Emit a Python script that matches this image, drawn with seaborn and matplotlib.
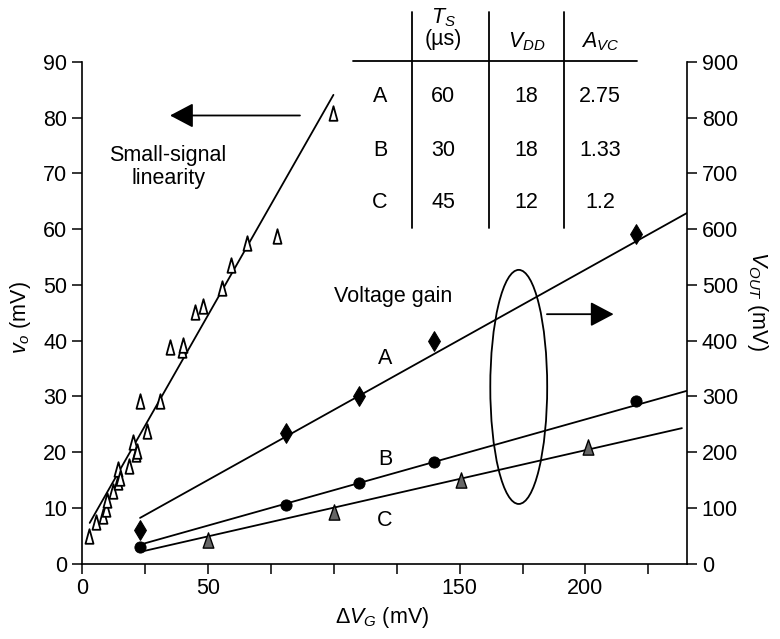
import matplotlib
matplotlib.use("Agg")
import matplotlib.pyplot as plt
from matplotlib.patches import Ellipse
from matplotlib.lines import Line2D
from matplotlib.path import Path
import seaborn as sns

# small-signal linearity points (left axis, v_o in mV)
ss_x = [3, 5.7, 8.2, 9.7, 10, 12.2, 14.3, 14.2, 15, 18.8, 20.1, 21.5, 21.8,
        23.1, 25.7, 31, 35, 39.6, 40.3, 44.9, 48, 55.5, 59.1, 65.5, 77.4, 99.9]
ss_y = [4.9, 7.4, 8.6, 9.8, 11.5, 13, 14.6, 16.9, 15.4, 17.5, 21.8, 19.6, 20.2,
        29.1, 23.8, 29.1, 38.9, 38.3, 39.2, 45.2, 46.2, 49.4, 53.6, 57.6, 58.7, 80.8]
ss_fit_x = [3.1, 99.9]
ss_fit_y = [7.3, 84.1]

# voltage gain points (right axis, V_OUT in mV)
a_x = [23, 81, 110, 140, 220]
a_y = [60, 234, 301, 400, 592]
b_x = [23, 81, 110, 140, 220]
b_y = [30, 106, 145, 183, 292]
c_x = [50, 100, 150.5, 201]
c_y = [42, 93, 150, 210]
a_fit_x, a_fit_y = [23.1, 240.3], [82, 629]
b_fit_x, b_fit_y = [23.1, 240.3], [34, 310]
c_fit_x, c_fit_y = [23.1, 238.3], [21, 243]

# table
tab_rows = ["A", "B", "C"]
tab_ts = ["60", "30", "45"]
tab_vdd = ["18", "18", "12"]
tab_avc = ["2.75", "1.33", "1.2"]

x_ticks = [0, 25, 50, 75, 100, 125, 150, 175, 200, 225]
x_labels = ["0", "", "50", "", "", "", "150", "", "200", ""]

sns.set_style("ticks")
plt.rcParams["font.family"] = ["Liberation Sans", "DejaVu Sans"]
plt.rcParams["mathtext.fontset"] = "custom"
plt.rcParams["mathtext.rm"] = "Liberation Sans"
plt.rcParams["mathtext.it"] = "Liberation Sans:italic"
for key in ["text.color", "axes.labelcolor", "xtick.color", "ytick.color", "axes.edgecolor"]:
    plt.rcParams[key] = "black"

FS = 15.5
W, H = 780, 639
fig = plt.figure(figsize=(7.8, 6.39), dpi=100)
ax = fig.add_axes([0.105, 0.118, 0.776, 0.785])
ax2 = ax.twinx()

thin_tri = Path([(-0.55, -1), (0.55, -1), (0, 1), (-0.55, -1)],
                [Path.MOVETO, Path.LINETO, Path.LINETO, Path.CLOSEPOLY])
tri = Path([(-0.7, -1), (0.7, -1), (0, 1), (-0.7, -1)],
           [Path.MOVETO, Path.LINETO, Path.LINETO, Path.CLOSEPOLY])

lw = 1.3
sns.lineplot(x=ss_fit_x, y=ss_fit_y, ax=ax, color="black", lw=lw)
sns.scatterplot(x=ss_x, y=ss_y, ax=ax, marker=thin_tri, s=110,
                facecolor="white", edgecolor="black", linewidth=1.3, zorder=3)

for fx_, fy_ in [(a_fit_x, a_fit_y), (b_fit_x, b_fit_y), (c_fit_x, c_fit_y)]:
    sns.lineplot(x=fx_, y=fy_, ax=ax2, color="black", lw=lw)
sns.scatterplot(x=a_x, y=a_y, ax=ax2, marker="d", s=100, color="black",
                edgecolor="black", zorder=3)
sns.scatterplot(x=b_x, y=b_y, ax=ax2, marker="o", s=65, color="black",
                edgecolor="black", zorder=3)
sns.scatterplot(x=c_x, y=c_y, ax=ax2, marker=tri, s=120, color="#666666",
                edgecolor="black", linewidth=1.0, zorder=3)

ax.set_xlim(0, 240.4)
ax.set_ylim(0, 90)
ax2.set_ylim(0, 900)
ax.set_xticks(x_ticks)
ax.set_xticklabels(x_labels)
ax.set_yticks(range(0, 91, 10))
ax2.set_yticks(range(0, 901, 100))

for a in (ax, ax2):
    a.spines["top"].set_visible(False)
    for s in a.spines.values():
        s.set_linewidth(1.2)
    a.tick_params(labelsize=FS, length=7, width=1.1, direction="out", colors="black")
ax.spines["right"].set_visible(False)
ax2.spines["left"].set_visible(False)
ax2.spines["bottom"].set_visible(False)

ax.set_xlabel(r"$\Delta V_G$ (mV)", fontsize=FS, va="center")
ax.xaxis.set_label_coords(0.496, -0.107)
ax.set_ylabel(r"$v_o$ (mV)", fontsize=FS, va="center")
ax.yaxis.set_label_coords(-0.102, 0.49)
ax2.set_ylabel(r"$V_{OUT}$ (mV)", fontsize=FS, rotation=270, va="center")
ax2.yaxis.set_label_coords(1.117, 0.523)

# annotations
ax.text(34.2, 71.2, "Small-signal\nlinearity", fontsize=FS, ha="center",
        va="center", linespacing=1.1)
ax.annotate("", xy=(35, 80.4), xytext=(86.6, 80.4),
            arrowprops=dict(arrowstyle="-|>,head_length=1.44,head_width=0.76",
                            mutation_scale=10, color="black", lw=lw,
                            shrinkA=0, shrinkB=0))
ax2.text(123.7, 480, "Voltage gain", fontsize=FS, ha="center", va="center")
ax2.annotate("", xy=(211.2, 447.5), xytext=(184.7, 447.5),
             arrowprops=dict(arrowstyle="-|>,head_length=1.44,head_width=0.76",
                             mutation_scale=10, color="black", lw=lw,
                             shrinkA=0, shrinkB=0))
ax2.add_patch(Ellipse((173.5, 317), 22.6, 420, fill=False, edgecolor="black", lw=lw))
for lab, ly in zip(tab_rows, [368, 186, 78]):
    ax2.text(120.4, ly, lab, fontsize=FS, ha="center", va="center")


# table drawn in figure pixel coordinates
def fx(px):
    return px / W


def fy(py):
    return 1 - py / H


for vx in [411.7, 489, 564]:
    fig.add_artist(Line2D([fx(vx), fx(vx)], [fy(11.7), fy(228)], color="black", lw=1.3))
fig.add_artist(Line2D([fx(353), fx(636.7)], [fy(61), fy(61)], color="black", lw=1.3))

col_x = [380, 443.3, 526.7, 600]
fig.text(fx(443.3), fy(18), r"$T_S$", fontsize=FS, ha="center", va="center")
fig.text(fx(443.3), fy(40), "(\u00b5s)", fontsize=FS, ha="center", va="center")
fig.text(fx(526.7), fy(42), r"$V_{DD}$", fontsize=FS, ha="center", va="center")
fig.text(fx(600), fy(42), r"$A_{VC}$", fontsize=FS, ha="center", va="center")
for i, ry in enumerate([97, 150, 203]):
    for cx, val in zip(col_x, [tab_rows[i], tab_ts[i], tab_vdd[i], tab_avc[i]]):
        fig.text(fx(cx), fy(ry), val, fontsize=FS, ha="center", va="center")

fig.savefig("out.png", dpi=100)
